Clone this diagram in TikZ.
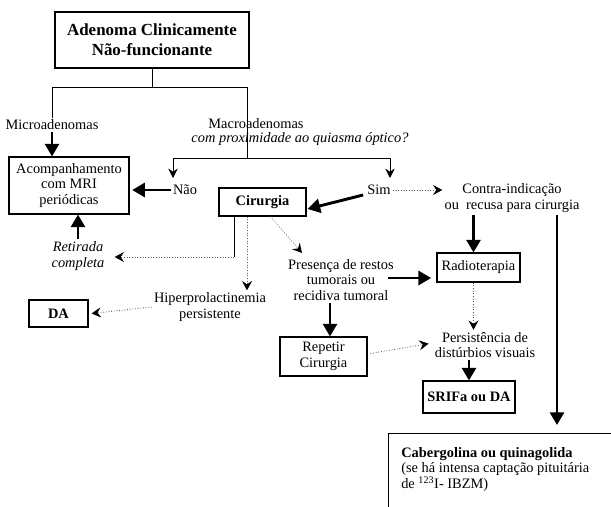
\documentclass[tikz,border=0pt]{standalone}
\usepackage{fontspec}
\setmainfont{Liberation Serif}
\usetikzlibrary{arrows.meta,calc}
\newcommand\myfnt{\fontsize{10.8}{11.8}\selectfont}
\begin{document}
\begin{tikzpicture}[x=0.75pt,y=-0.75pt,
  every node/.style={font=\myfnt, inner sep=1.5pt},
  box/.style={draw, line width=0.8pt, inner sep=0pt, align=center},
  txt/.style={align=center},
  conn/.style={line width=0.6pt},
  thickarrow/.style={line width=2.2pt, -{Triangle[length=9.5pt,width=10.5pt]}},
  thinarrow/.style={line width=0.6pt, -{Stealth[length=7pt,width=7pt]}},
  dotarrow/.style={line width=0.6pt, black!65, dash pattern=on 0.6pt off 1.4pt, -{Stealth[length=7pt,width=7.5pt,inset=2.5pt, black]}},
]
\clip (0,0) rectangle (611,507);
\fill[white] (0,0) rectangle (611,507);

% nodes
\node[box, line width=1.6pt, minimum width=146pt, minimum height=42pt, font=\fontsize{12.7}{15}\selectfont\bfseries] (title) at (152,40) {Adenoma Clinicamente\\Não-funcionante};
\node[txt] (micro) at (52,125) {Microadenomas};
\node[txt] (macro) at (256,124) {Macroadenomas};
\node[txt, font=\myfnt\itshape] (quest) at (300,139) {com proximidade ao quiasma óptico?};
\node[box, minimum width=90pt, minimum height=42.75pt] (acomp) at (69,185.5) {Acompanhamento\\com MRI\\periódicas};
\node (nao) at (185,190) {Não};
\node (sim) at (379,190) {Sim};
\node[txt] (contra) at (512,198) {Contra-indicação\\ou\ \ recusa para cirurgia};
\node[box, font=\myfnt\bfseries, minimum width=65.25pt, minimum height=21pt] (cir) at (262.5,202) {Cirurgia};
\node[txt, font=\myfnt\itshape] (ret) at (78,256) {Retirada\\completa};
\node[txt] (hiper) at (210,307) {Hiperprolactinemia\\persistente};
\node[box, font=\myfnt\bfseries, minimum width=44.25pt, minimum height=20.25pt] (da) at (58.5,313.5) {DA};
\node[txt] (pres) at (341,280) {Presença de restos\\tumorais ou\\recidiva tumoral};
\node[box, minimum width=62.25pt, minimum height=21.75pt] (radio) at (478.5,267.5) {Radioterapia};
\node[box, minimum width=65.25pt, minimum height=29.25pt] (rep) at (323.5,356.5) {Repetir\\Cirurgia};
\node[txt] (pers) at (485,345) {Persistência de\\distúrbios visuais};
\node[box, font=\myfnt\bfseries, minimum width=69pt, minimum height=24pt] (srifa) at (469,397) {SRIFa ou DA};
\node[draw, line width=0.8pt, minimum width=178pt, minimum height=62pt, anchor=north west, inner sep=0pt] (cab) at (388,433) {};
\node[anchor=north west, align=left, inner sep=0pt] (cabtxt) at (401,447) {\textbf{Cabergolina ou quinagolida}\\ (se há intensa captação pituitária\\de \textsuperscript{123}I- IBZM)};

% coordinates
\coordinate (j) at (152,87);
\coordinate (jl) at (52,87);
\coordinate (jr) at (247,87);
\coordinate (mj) at (247,158);
\coordinate (bl) at (173,158);
\coordinate (br) at (390,158);
\coordinate (naotip) at (173,178);
\coordinate (simtip) at (390,178);
\coordinate (longtop) at (557,215);
\coordinate (c1) at (234,257);
\coordinate (hx) at (247,0);
\coordinate (p1) at (302,253);
\coordinate (p2) at (388,278);
\coordinate (p3) at (330,0);
\coordinate (rx) at ($(radio.south)+(-5,0)$);

% connectors
\draw[conn] (title.south) -- (j);
\draw[conn] (jl) -- (jr);
\draw[conn] (jl) -- (micro.north);
\draw[conn] (jr) -- (mj);
\draw[conn] (bl) -- (br);
\draw[thinarrow] (bl) -- (naotip);
\draw[thinarrow] (br) -- (simtip);

\draw[thickarrow] (micro.south) -- (micro.south |- acomp.north);
\draw[thickarrow, shorten >=2pt] (nao.west) -- (nao.west -| acomp.east);
\draw[thickarrow] ($(sim.west)+(-2,5)$) -- ($(cir.east)+(1,7)$);
\draw[dotarrow] (sim.east) -- (sim.east -| contra.west);
\draw[thickarrow] (contra.south -| rx) -- (rx |- radio.north);
\draw[thickarrow, shorten >=6pt] (longtop) -- (longtop |- cab.north);

\draw[conn] (cir.south -| c1) -- (c1);
\draw[dotarrow] (c1) -- ($(c1 -| ret.east)+(8,0)$);
\draw[dotarrow] (cir.south -| hx) -- (hx |- hiper.north);
\draw[dotarrow] (hiper.west) -- ($(da.east)+(3,0)$);
\draw[dotarrow] ($(cir.south)+(8,0)$) -- (p1);
\draw[thickarrow, shorten >=4pt] (p2) -- (p2 -| radio.west);
\draw[thickarrow] (pres.south -| p3) -- (p3 |- rep.north);
\draw[dotarrow, shorten >=3pt] ($(rep.east)+(3,-3)$) -- ($(pers.west)+(0,-2)$);
\draw[dotarrow] (rx) -- (rx |- pers.north);
\draw[thickarrow] (pers.south -| srifa.north) -- (srifa.north);
\draw[thickarrow] (ret.north) -- (ret.north |- acomp.south);
\end{tikzpicture}
\end{document}
